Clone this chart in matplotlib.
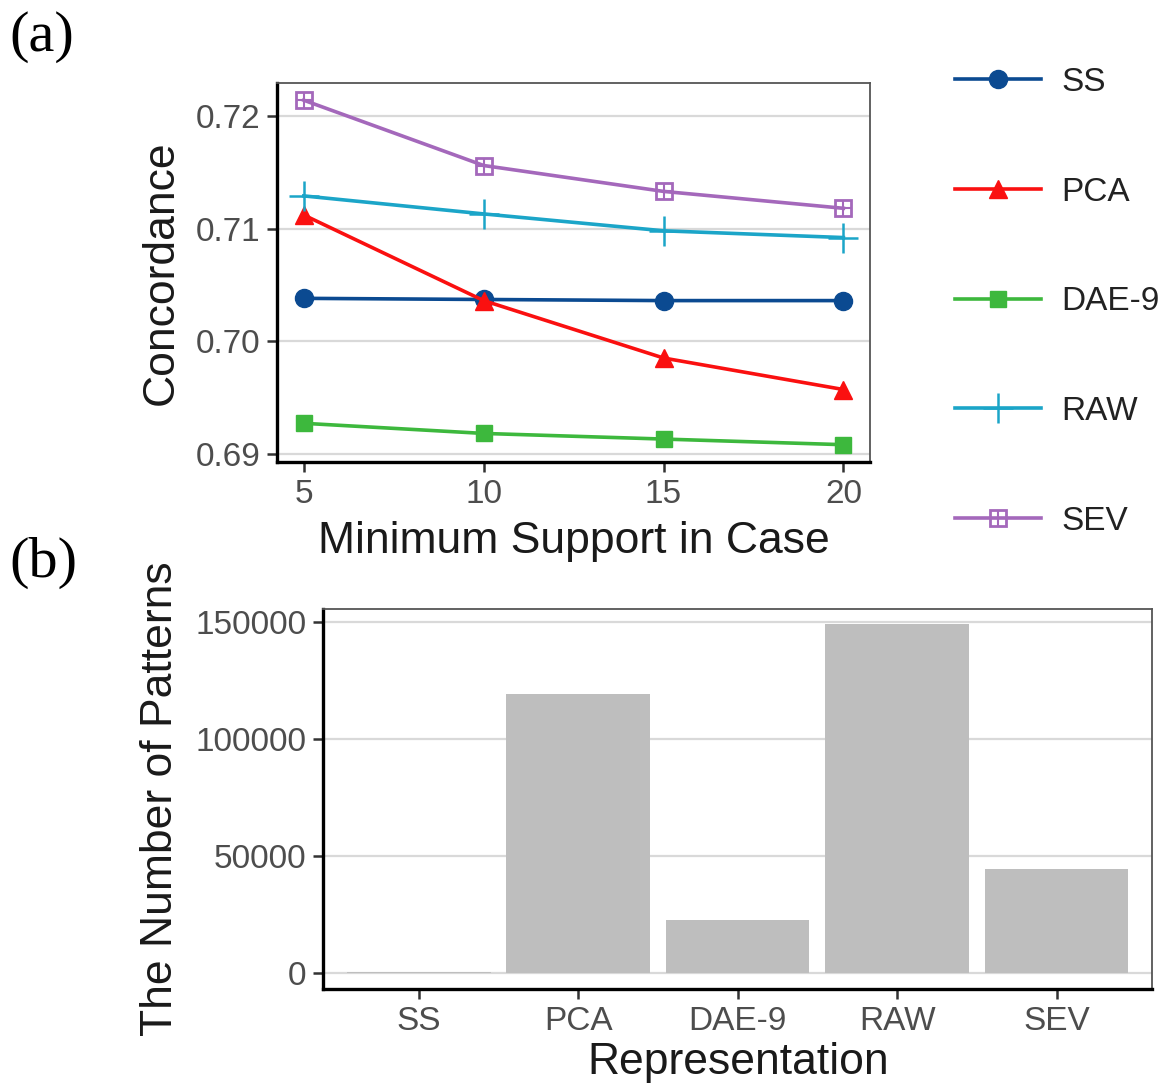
import matplotlib
matplotlib.use("Agg")
import matplotlib.pyplot as plt
import numpy as np
from matplotlib.lines import Line2D

plt.rcParams['font.family'] = ['Liberation Sans', 'DejaVu Sans']

# (a) concordance vs minimum support
support = [5, 10, 15, 20]
ss = [0.7038, 0.7037, 0.7036, 0.7036]
pca = [0.7112, 0.7036, 0.6985, 0.6957]
dae9 = [0.6927, 0.6918, 0.6913, 0.6908]
raw = [0.7129, 0.7113, 0.7098, 0.7092]
sev = [0.7214, 0.7156, 0.7133, 0.7118]

# (b) number of patterns
reps = ['SS', 'PCA', 'DAE-9', 'RAW', 'SEV']
n_patterns = [400, 119100, 22700, 149100, 44400]

c_ss = '#0b4a91'
c_pca = '#fa1010'
c_dae = '#3db83d'
c_raw = '#1ba5c8'
c_sev = '#a468bb'
tick_col = '#4d4d4d'
grid_col = '#d9d9d9'

fig = plt.figure(figsize=(11.73, 10.92), dpi=100)

def style(ax):
    ax.set_axisbelow(True)
    ax.grid(axis='y', color=grid_col, lw=1.6)
    ax.grid(axis='x', visible=False)
    for s in ['left', 'bottom']:
        ax.spines[s].set_color('black')
        ax.spines[s].set_linewidth(2.4)
    for s in ['top', 'right']:
        ax.spines[s].set_color('#555555')
        ax.spines[s].set_linewidth(1.3)
    ax.tick_params(axis='both', direction='out', length=7, width=1.8,
                   color='#333333', labelcolor=tick_col, labelsize=24, pad=5)

ax1 = fig.add_axes([0.236, 0.577, 0.506, 0.347])
style(ax1)
lw = 2.6
ax1.plot(support, ss, color=c_ss, lw=lw, marker='o', ms=13)
ax1.plot(support, pca, color=c_pca, lw=lw, marker='^', ms=13)
ax1.plot(support, dae9, color=c_dae, lw=lw, marker='s', ms=11)
ax1.plot(support, raw, color=c_raw, lw=lw, marker='+', ms=22, mew=1.8)
ax1.plot(support, sev, color=c_sev, lw=lw, marker='s', ms=12, mfc='none', mew=2)
ax1.plot(support, sev, color=c_sev, lw=0, marker='+', ms=11, mew=1.5)
ax1.set_xlim(4.25, 20.75)
ax1.set_ylim(0.68927, 0.72293)
ax1.set_xticks(support)
ax1.set_yticks([0.69, 0.70, 0.71, 0.72])
ax1.set_yticklabels(['0.69', '0.70', '0.71', '0.72'])
ax1.set_xlabel('Minimum Support in Case', fontsize=32, color='#1a1a1a', labelpad=8)
ax1.set_ylabel('Concordance', fontsize=32, color='#1a1a1a', labelpad=10)

# legend
h_ss = Line2D([], [], color=c_ss, lw=lw, marker='o', ms=13)
h_pca = Line2D([], [], color=c_pca, lw=lw, marker='^', ms=13)
h_dae = Line2D([], [], color=c_dae, lw=lw, marker='s', ms=11)
h_raw = Line2D([], [], color=c_raw, lw=lw, marker='+', ms=22, mew=1.8)
h_sev1 = Line2D([], [], color=c_sev, lw=lw, marker='s', ms=12, mfc='none', mew=2)
h_sev2 = Line2D([], [], color=c_sev, lw=0, marker='+', ms=11, mew=1.5)
fig.legend([h_ss, h_pca, h_dae, h_raw, (h_sev1, h_sev2)],
           ['SS', 'PCA', 'DAE-9', 'RAW', 'SEV'],
           loc='upper left', bbox_to_anchor=(0.794, 0.96), frameon=False,
           fontsize=24, labelspacing=2.36, handlelength=2.6, handletextpad=0.6,
           borderpad=0.2, labelcolor='#222222')

# (b)
ax2 = fig.add_axes([0.2754, 0.0943, 0.707, 0.348])
style(ax2)
x = np.arange(len(reps))
ax2.bar(x, n_patterns, width=0.9, color='#bebebe')
ax2.set_xlim(-0.6, 4.6)
ax2.set_ylim(-6840, 155560)
ax2.set_xticks(x)
ax2.set_xticklabels(reps)
ax2.set_yticks([0, 50000, 100000, 150000])
ax2.set_yticklabels(['0', '50000', '100000', '150000'])
ax2.set_xlabel('Representation', fontsize=32, color='#1a1a1a', labelpad=4)
ax2.set_ylabel('The Number of Patterns', fontsize=32, color='#1a1a1a', labelpad=10)

fig.text(0.008, 0.99, '(a)', fontsize=42, family='Liberation Serif', va='top')
fig.text(0.008, 0.508, '(b)', fontsize=42, family='Liberation Serif', va='top')

fig.savefig('out.png', dpi=100)
